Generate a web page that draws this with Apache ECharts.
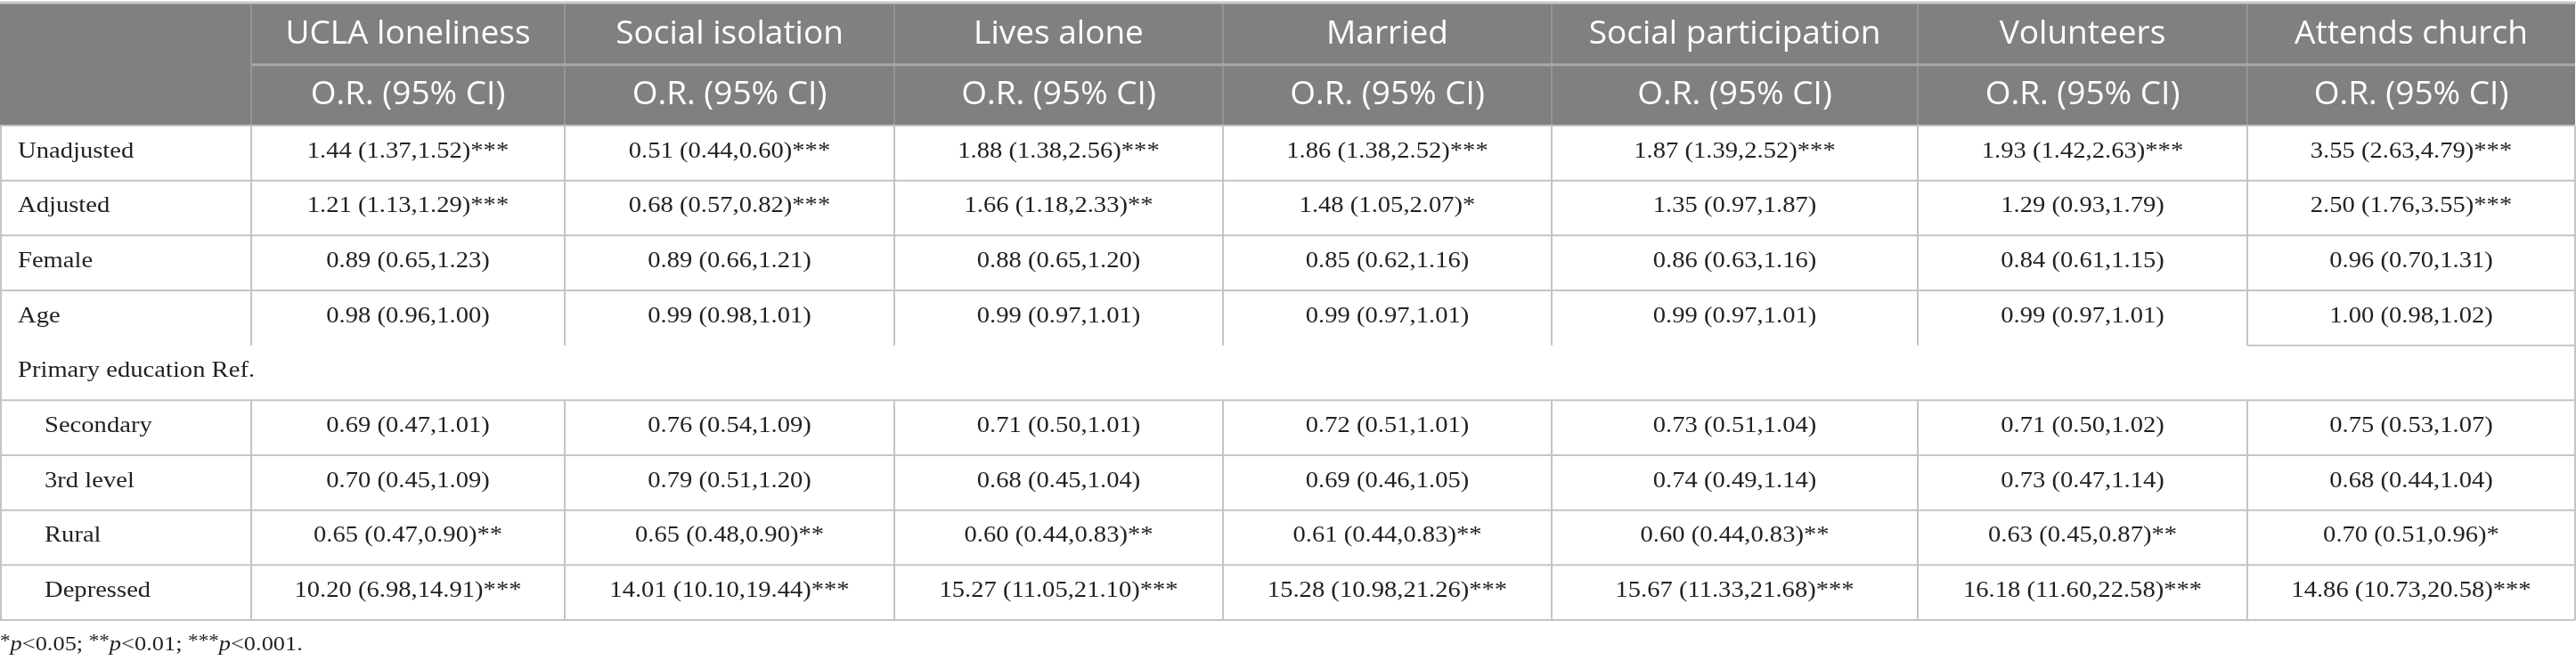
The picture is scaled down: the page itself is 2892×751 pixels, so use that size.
<!DOCTYPE html>
<html>
<head>
<meta charset="utf-8">
<script src="https://cdn.jsdelivr.net/npm/echarts@6/dist/echarts.min.js"></script>
<style>
  html, body { margin: 0; padding: 0; background: #fff; }
  #chart { width: 2892px; height: 751px; }
</style>
</head>
<body>
<div id="chart"></div>
<script>
const columns = ['UCLA loneliness', 'Social isolation', 'Lives alone', 'Married', 'Social participation', 'Volunteers', 'Attends church'];
const subHeader = 'O.R. (95% CI)';
const rowLabels = ['Unadjusted', 'Adjusted', 'Female', 'Age', 'Primary education Ref.', 'Secondary', '3rd level', 'Rural', 'Depressed'];
const indented = [false, false, false, false, false, true, true, true, true];

const unadjusted = ['1.44 (1.37,1.52)***', '0.51 (0.44,0.60)***', '1.88 (1.38,2.56)***', '1.86 (1.38,2.52)***', '1.87 (1.39,2.52)***', '1.93 (1.42,2.63)***', '3.55 (2.63,4.79)***'];
const adjusted = ['1.21 (1.13,1.29)***', '0.68 (0.57,0.82)***', '1.66 (1.18,2.33)**', '1.48 (1.05,2.07)*', '1.35 (0.97,1.87)', '1.29 (0.93,1.79)', '2.50 (1.76,3.55)***'];
const female = ['0.89 (0.65,1.23)', '0.89 (0.66,1.21)', '0.88 (0.65,1.20)', '0.85 (0.62,1.16)', '0.86 (0.63,1.16)', '0.84 (0.61,1.15)', '0.96 (0.70,1.31)'];
const age = ['0.98 (0.96,1.00)', '0.99 (0.98,1.01)', '0.99 (0.97,1.01)', '0.99 (0.97,1.01)', '0.99 (0.97,1.01)', '0.99 (0.97,1.01)', '1.00 (0.98,1.02)'];
const primaryRef = [];
const secondary = ['0.69 (0.47,1.01)', '0.76 (0.54,1.09)', '0.71 (0.50,1.01)', '0.72 (0.51,1.01)', '0.73 (0.51,1.04)', '0.71 (0.50,1.02)', '0.75 (0.53,1.07)'];
const thirdLevel = ['0.70 (0.45,1.09)', '0.79 (0.51,1.20)', '0.68 (0.45,1.04)', '0.69 (0.46,1.05)', '0.74 (0.49,1.14)', '0.73 (0.47,1.14)', '0.68 (0.44,1.04)'];
const rural = ['0.65 (0.47,0.90)**', '0.65 (0.48,0.90)**', '0.60 (0.44,0.83)**', '0.61 (0.44,0.83)**', '0.60 (0.44,0.83)**', '0.63 (0.45,0.87)**', '0.70 (0.51,0.96)*'];
const depressed = ['10.20 (6.98,14.91)***', '14.01 (10.10,19.44)***', '15.27 (11.05,21.10)***', '15.28 (10.98,21.26)***', '15.67 (11.33,21.68)***', '16.18 (11.60,22.58)***', '14.86 (10.73,20.58)***'];
const rowValues = [unadjusted, adjusted, female, age, primaryRef, secondary, thirdLevel, rural, depressed];

// layout (table units = pixels on hidden value axes)
const colEdges = [0, 282, 634, 1004, 1373, 1742, 2153, 2523, 2891];
const rowEdges = [4, 72.7, 141, 202.7, 264.3, 326, 387.7, 449.3, 511, 572.7, 634.3, 696];
const headFont = '"Open Sans", sans-serif';
const bodyFont = '"Liberation Serif", serif';
const bodySize = 26;
const bodyStretch = 1.1;

// build cells
const cells = [];
cells.push({ c0: 0, c1: 1, r0: 0, r1: 2, text: '', kind: 'head' });
columns.forEach((name, i) => {
  cells.push({ c0: i + 1, c1: i + 2, r0: 0, r1: 1, text: name, kind: 'head' });
  cells.push({ c0: i + 1, c1: i + 2, r0: 1, r1: 2, text: subHeader, kind: 'head' });
});
rowLabels.forEach((label, r) => {
  const full = rowValues[r].length === 0;
  cells.push({ c0: 0, c1: full ? 8 : 1, r0: r + 2, r1: r + 3, text: label, kind: 'label', indent: indented[r] });
  rowValues[r].forEach((v, c) => {
    cells.push({ c0: c + 1, c1: c + 2, r0: r + 2, r1: r + 3, text: v, kind: 'value' });
  });
});

// border segments
const segs = [];
segs.push({ a: [0, 3], b: [2892, 3], color: '#c9c9c9', width: 3 });
for (let k = 1; k < 8; k++) {
  segs.push({ a: [colEdges[k], rowEdges[0]], b: [colEdges[k], rowEdges[2]], color: '#9d9d9d', width: 1.5 });
}
segs.push({ a: [colEdges[1], rowEdges[1]], b: [colEdges[8], rowEdges[1]], color: '#a8a8a8', width: 3 });
for (let r = 2; r < rowEdges.length; r++) {
  const x0 = r === 6 ? colEdges[7] : colEdges[0];
  segs.push({ a: [x0, rowEdges[r]], b: [colEdges[8], rowEdges[r]], color: '#c4c4c4', width: 2 });
}
segs.push({ a: [1, rowEdges[2]], b: [1, rowEdges[11]], color: '#c4c4c4', width: 2 });
segs.push({ a: [colEdges[8], rowEdges[2]], b: [colEdges[8], rowEdges[11]], color: '#c4c4c4', width: 2 });
for (let k = 1; k < 8; k++) {
  segs.push({ a: [colEdges[k], rowEdges[2]], b: [colEdges[k], rowEdges[6]], color: '#c4c4c4', width: 2 });
  segs.push({ a: [colEdges[k], rowEdges[7]], b: [colEdges[k], rowEdges[11]], color: '#c4c4c4', width: 2 });
}

const renderCell = (params, api) => {
  const d = cells[params.dataIndex];
  const p0 = api.coord([colEdges[d.c0], rowEdges[d.r0]]);
  const p1 = api.coord([colEdges[d.c1], rowEdges[d.r1]]);
  const children = [];
  if (d.kind === 'head') {
    children.push({ type: 'rect', shape: { x: p0[0], y: p0[1], width: p1[0] - p0[0], height: p1[1] - p0[1] }, style: { fill: '#808080' } });
  }
  if (d.text) {
    const cy = (p0[1] + p1[1]) / 2;
    if (d.kind === 'head') {
      children.push({
        type: 'text', x: (p0[0] + p1[0]) / 2, y: cy,
        style: { text: d.text, fill: '#fff', fontSize: 37, fontFamily: headFont, align: 'center', verticalAlign: 'middle' }
      });
    } else {
      const left = d.kind === 'label';
      children.push({
        type: 'text', x: left ? p0[0] + (d.indent ? 50 : 20) : (p0[0] + p1[0]) / 2, y: cy - 2,
        scaleX: bodyStretch,
        style: { text: d.text, fill: '#231f20', fontSize: bodySize, fontFamily: bodyFont, align: left ? 'left' : 'center', verticalAlign: 'middle' }
      });
    }
  }
  return { type: 'group', children };
};

const renderSeg = (params, api) => {
  const s = segs[params.dataIndex];
  const a = api.coord(s.a);
  const b = api.coord(s.b);
  return { type: 'line', shape: { x1: a[0], y1: a[1], x2: b[0], y2: b[1] }, style: { stroke: s.color, lineWidth: s.width } };
};

const chart = echarts.init(document.getElementById('chart'));
chart.setOption({
  backgroundColor: '#fff',
  animation: false,
  grid: { left: 0, right: 0, top: 0, bottom: 0 },
  xAxis: { type: 'value', min: 0, max: 2892, show: false },
  yAxis: { type: 'value', min: 0, max: 751, inverse: true, show: false },
  series: [{
    type: 'custom',
    renderItem: renderCell,
    clip: false,
    silent: true,
    data: cells.map(d => [colEdges[d.c0], rowEdges[d.r0]])
  }, {
    type: 'custom',
    renderItem: renderSeg,
    clip: false,
    silent: true,
    z: 3,
    data: segs.map(s => [s.a[0], s.a[1]])
  }, {
    type: 'custom',
    clip: false,
    silent: true,
    data: [[0, 724]],
    renderItem: (params, api) => {
      const p = api.coord([0, 724]);
      return {
        type: 'text', x: p[0], y: p[1], scaleX: bodyStretch,
        style: {
          text: '{s|*}{i|p}{n|<0.05; }{s|**}{i|p}{n|<0.01; }{s|***}{i|p}{n|<0.001.}',
          align: 'left', verticalAlign: 'middle',
          rich: {
            n: { fontSize: 24, lineHeight: 28, fontFamily: bodyFont, fill: '#231f20' },
            i: { fontSize: 24, lineHeight: 28, fontFamily: bodyFont, fontStyle: 'italic', fill: '#231f20' },
            s: { fontSize: 21, fontFamily: bodyFont, fill: '#231f20', verticalAlign: 'top' }
          }
        }
      };
    }
  }]
});
</script>
</body>
</html>
